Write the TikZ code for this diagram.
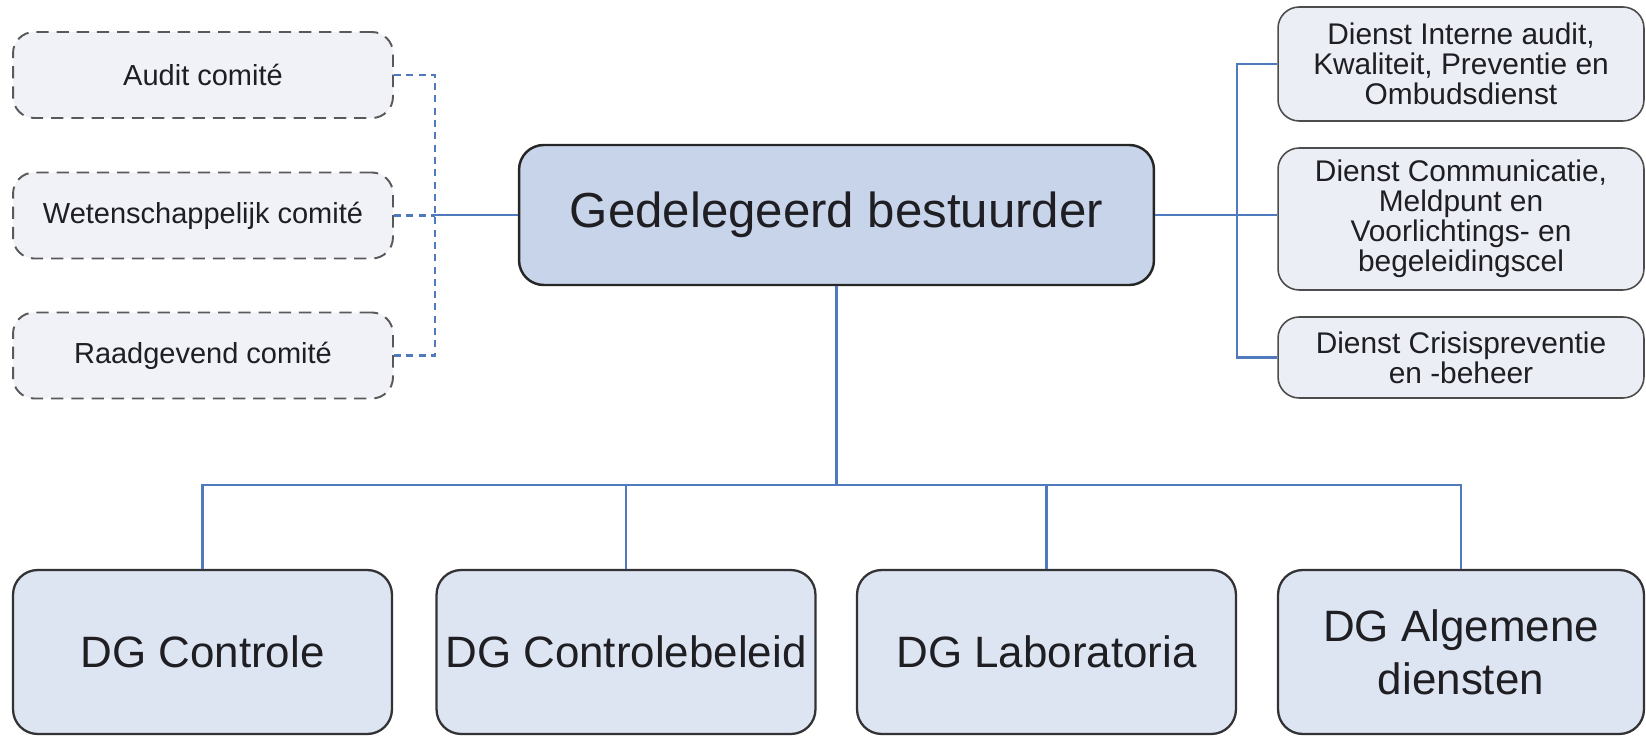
\documentclass[tikz,border=0pt]{standalone}
\usepackage{fontspec}
\setmainfont{Liberation Sans}
\usepackage{tikz}

\definecolor{linkblue}{RGB}{79,123,190}
\definecolor{headfill}{RGB}{200,212,234}
\definecolor{dgfill}{RGB}{221,228,242}
\definecolor{staffill}{RGB}{236,238,246}
\definecolor{comfill}{RGB}{241,242,248}
\definecolor{textgray}{RGB}{30,30,35}

\tikzset{
  headbox/.style={rectangle,rounded corners=14pt,draw=black!85,line width=1.4pt,fill=headfill,
    text=textgray,font=\fontsize{28}{32}\selectfont,minimum width=12.7cm,minimum height=2.8cm},
  dgbox/.style={rectangle,rounded corners=14pt,draw=black!80,line width=1.3pt,fill=dgfill,
    text=textgray,font=\fontsize{25}{30}\selectfont,align=center,minimum height=3.28cm},
  stafbox/.style={rectangle,rounded corners=12pt,draw=black!70,line width=0.9pt,fill=staffill,
    text=textgray,font=\fontsize{17}{17}\selectfont,align=center,minimum width=7.32cm},
  combox/.style={rectangle,rounded corners=12pt,draw=black!65,line width=1.1pt,
    dash pattern=on 7pt off 4.5pt,fill=comfill,text=textgray,font=\fontsize{16.5}{18}\selectfont,
    minimum width=7.6cm,minimum height=1.72cm},
  link/.style={draw=linkblue,line width=1.3pt},
  dashlink/.style={draw=linkblue,line width=1.3pt,dash pattern=on 4pt off 3pt}
}

\begin{document}
\begin{tikzpicture}[x=0.02cm,y=-0.02cm]
\useasboundingbox (0,0) rectangle (1646,736);

% gedelegeerd bestuurder node
\node[headbox] (ceo) at (836.5,215) {Gedelegeerd bestuurder};

% comite nodes
\node[combox] (audit) at (203,75) {Audit comité};
\node[combox] (wet) at (203,215.5) {Wetenschappelijk comité};
\node[combox] (raad) at (203,355.5) {Raadgevend comité};

\coordinate (lbus) at (435,215);
\draw[dashlink] (audit.east) -| (lbus);
\draw[dashlink] (raad.east) -| (lbus);
\draw[dashlink] (wet.east) -- (wet.east -| lbus);
\draw[link] (lbus) -- (ceo.west);

% staf diensten nodes
\node[stafbox,minimum height=2.28cm] (audint) at (1461,64) {Dienst Interne audit,\\Kwaliteit, Preventie en\\Ombudsdienst};
\node[stafbox,minimum height=2.84cm] (comm) at (1461,219) {Dienst Communicatie,\\Meldpunt en\\Voorlichtings- en\\begeleidingscel};
\node[stafbox,minimum height=1.62cm] (crisis) at (1461,357.5) {Dienst Crisispreventie\\en -beheer};

\coordinate (rbus) at (1237,215);
\draw[link] (ceo.east) -- (ceo.east -| comm.west);
\draw[link] (rbus) |- (audint.west);
\draw[link] (rbus) |- (crisis.west);

% DG nodes
\node[dgbox,minimum width=7.58cm] (dgcon) at (202.5,652) {DG Controle};
\node[dgbox,minimum width=7.58cm] (dgbel) at (626,652) {DG Controlebeleid};
\node[dgbox,minimum width=7.58cm] (dglab) at (1046.5,652) {DG Laboratoria};
\node[dgbox,minimum width=7.32cm] (dgalg) at (1461,652) {DG Algemene\\diensten};

\coordinate (bbus) at (836.5,485);
\draw[link] (ceo.south) -- (bbus);
\draw[link] (bbus) -| (dgcon.north);
\draw[link] (bbus) -| (dgbel.north);
\draw[link] (bbus) -| (dglab.north);
\draw[link] (bbus) -| (dgalg.north);

\end{tikzpicture}
\end{document}
